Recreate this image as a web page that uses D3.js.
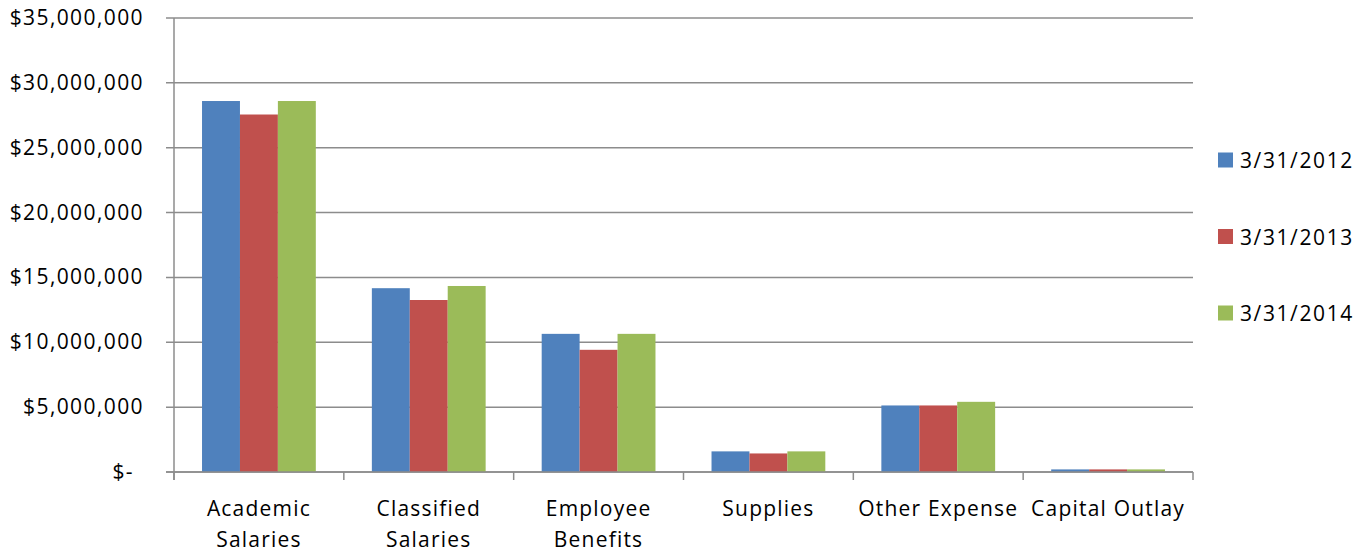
<!DOCTYPE html>
<html>
<head>
<meta charset="utf-8">
<script src="https://cdn.jsdelivr.net/npm/d3@7"></script>
<style>
body { margin: 0; background: #fff; }
svg text { font-family: "Open Sans", "Liberation Sans", sans-serif; fill: #000; }
</style>
</head>
<body>
<div class="graph"></div>
<script>
var categories = [['Academic', 'Salaries'], ['Classified', 'Salaries'], ['Employee', 'Benefits'],
    ['Supplies'], ['Other Expense'], ['Capital Outlay']];
var seriesNames = ['3/31/2012', '3/31/2013', '3/31/2014'];
var seriesColors = ['#4f81bd', '#c0504d', '#9bbb59'];
var values2012 = [28600000, 14170000, 10650000, 1590000, 5130000, 200000];
var values2013 = [27560000, 13260000, 9420000, 1430000, 5130000, 200000];
var values2014 = [28600000, 14340000, 10650000, 1590000, 5410000, 200000];
var yTicks = [0, 5000000, 10000000, 15000000, 20000000, 25000000, 30000000, 35000000];

var series = [values2012, values2013, values2014];
var width = 1372, height = 552;
var plotLeft = 174, plotRight = 1193, plotTop = 18, plotBottom = 472;

var graph = d3.select('.graph')
    .append('svg')
    .attr('width', width)
    .attr('height', height);

var y = d3.scaleLinear().domain([0, 35000000]).range([plotBottom, plotTop]);

var x0 = d3.scaleBand()
    .domain(d3.range(categories.length))
    .range([plotLeft, plotRight])
    .paddingInner(0.33)
    .paddingOuter(0.165);

var x1 = d3.scaleBand()
    .domain(d3.range(series.length))
    .range([0, x0.bandwidth()]);

var step = (plotRight - plotLeft) / categories.length;

// gridlines
graph.selectAll('.grid')
    .data(yTicks)
    .enter()
    .append('line')
    .attr('class', 'grid')
    .attr('x1', plotLeft - 8)
    .attr('x2', plotRight)
    .attr('y1', function(d) { return y(d); })
    .attr('y2', function(d) { return y(d); })
    .attr('stroke', '#8c8c8c')
    .attr('stroke-width', 1.5);

// y labels (accounting format pads the zero dash)
graph.selectAll('.ylabel')
    .data(yTicks)
    .enter()
    .append('text')
    .attr('class', 'ylabel')
    .attr('x', function(d) { return d === 0 ? 134 : 144; })
    .attr('y', function(d) { return y(d) + 7; })
    .attr('text-anchor', 'end')
    .style('font-size', '21px')
    .style('letter-spacing', '1.4px')
    .text(function(d) { return d === 0 ? '$-' : '$' + d3.format(',')(d); });

// bars
var groups = graph.selectAll('.cat')
    .data(categories)
    .enter()
    .append('g')
    .attr('class', 'cat')
    .attr('transform', function(d, i) { return 'translate(' + x0(i) + ',0)'; });

groups.selectAll('rect')
    .data(function(d, i) { return series.map(function(s, k) { return { k: k, v: s[i] }; }); })
    .enter()
    .append('rect')
    .attr('x', function(d) { return x1(d.k); })
    .attr('y', function(d) { return y(d.v); })
    .attr('width', x1.bandwidth())
    .attr('height', function(d) { return plotBottom - y(d.v); })
    .attr('fill', function(d) { return seriesColors[d.k]; });

// axes lines
graph.append('line')
    .attr('x1', plotLeft).attr('x2', plotLeft)
    .attr('y1', plotTop).attr('y2', plotBottom + 8)
    .attr('stroke', '#8c8c8c').attr('stroke-width', 1.5);

graph.append('line')
    .attr('x1', plotLeft - 8).attr('x2', plotRight)
    .attr('y1', plotBottom).attr('y2', plotBottom)
    .attr('stroke', '#8c8c8c').attr('stroke-width', 1.5);

graph.selectAll('.xtick')
    .data(d3.range(categories.length + 1))
    .enter()
    .append('line')
    .attr('class', 'xtick')
    .attr('x1', function(d) { return plotLeft + d * step; })
    .attr('x2', function(d) { return plotLeft + d * step; })
    .attr('y1', plotBottom)
    .attr('y2', plotBottom + 8)
    .attr('stroke', '#8c8c8c').attr('stroke-width', 1.5);

// category labels
var labels = graph.selectAll('.xlabel')
    .data(categories)
    .enter()
    .append('text')
    .attr('class', 'xlabel')
    .attr('text-anchor', 'middle')
    .style('font-size', '21px')
    .style('letter-spacing', '1.2px')
    .attr('transform', function(d, i) { return 'translate(' + (plotLeft + (i + 0.5) * step) + ',516)'; });

labels.selectAll('tspan')
    .data(function(d) { return d; })
    .enter()
    .append('tspan')
    .attr('x', 0)
    .attr('dy', function(d, i) { return i === 0 ? 0 : 31; })
    .text(function(d) { return d; });

// legend
var legend = graph.selectAll('.legend')
    .data(seriesNames)
    .enter()
    .append('g')
    .attr('class', 'legend')
    .attr('transform', function(d, i) { return 'translate(1218,' + (160 + i * 76.5) + ')'; });

legend.append('rect')
    .attr('x', 0).attr('y', -7.5)
    .attr('width', 15).attr('height', 15)
    .attr('fill', function(d, i) { return seriesColors[i]; });

legend.append('text')
    .attr('x', 22)
    .attr('y', 8)
    .style('font-size', '21px')
    .style('letter-spacing', '1.6px')
    .text(function(d) { return d; });
</script>
</body>
</html>
